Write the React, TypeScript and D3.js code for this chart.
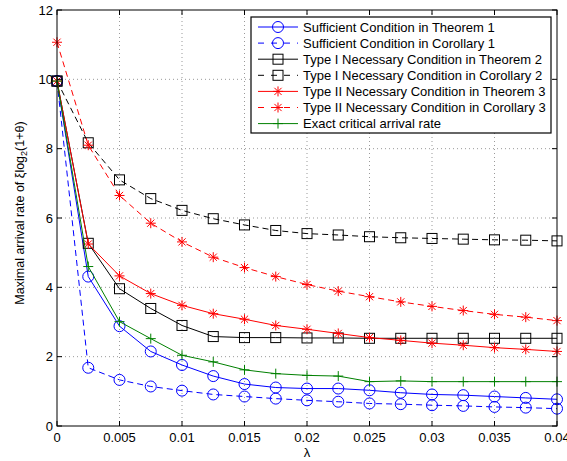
import React, { useEffect, useRef } from 'react';
import * as d3 from 'd3';

const width = 567;
const height = 461;
const margin = { top: 10, left: 57, bottom: 35, right: 10 };

// lambda values
const lambdas = [0, 0.0025, 0.005, 0.0075, 0.01, 0.0125, 0.015, 0.0175, 0.02, 0.0225, 0.025, 0.0275, 0.03, 0.0325, 0.035, 0.0375, 0.04];

const suffThm1 = [9.95, 4.31, 2.88, 2.15, 1.76, 1.44, 1.21, 1.11, 1.08, 1.08, 1.03, 0.96, 0.91, 0.89, 0.85, 0.81, 0.77];
const suffCor1 = [9.95, 1.68, 1.33, 1.14, 1.02, 0.91, 0.85, 0.79, 0.74, 0.70, 0.65, 0.63, 0.60, 0.58, 0.55, 0.53, 0.50];
const type1Thm2 = [9.95, 5.27, 3.96, 3.39, 2.90, 2.58, 2.55, 2.55, 2.54, 2.54, 2.53, 2.53, 2.53, 2.53, 2.53, 2.53, 2.53];
const type1Cor2 = [9.95, 8.17, 7.10, 6.56, 6.22, 5.98, 5.80, 5.64, 5.55, 5.51, 5.46, 5.43, 5.41, 5.39, 5.37, 5.36, 5.34];
const type2Thm3 = [9.95, 5.25, 4.33, 3.82, 3.48, 3.24, 3.08, 2.90, 2.79, 2.67, 2.55, 2.47, 2.39, 2.33, 2.26, 2.21, 2.15];
const type2Cor3 = [11.07, 8.10, 6.65, 5.85, 5.31, 4.87, 4.57, 4.31, 4.08, 3.89, 3.73, 3.58, 3.45, 3.33, 3.22, 3.14, 3.04];
const exactRate = [9.95, 4.60, 3.01, 2.52, 2.04, 1.85, 1.62, 1.51, 1.46, 1.44, 1.28, 1.30, 1.28, 1.28, 1.28, 1.28, 1.28];

const xTicks = [0, 0.005, 0.01, 0.015, 0.02, 0.025, 0.03, 0.035, 0.04];
const yTicks = [0, 2, 4, 6, 8, 10, 12];

const seriesList = [
    { name: 'Sufficient Condition in Theorem 1', values: suffThm1, color: '#0000ff', dashed: false, marker: 'circle' },
    { name: 'Sufficient Condition in Corollary 1', values: suffCor1, color: '#0000ff', dashed: true, marker: 'circle' },
    { name: 'Type I Necessary Condition in Theorem 2', values: type1Thm2, color: '#000000', dashed: false, marker: 'square' },
    { name: 'Type I Necessary Condition in Corollary 2', values: type1Cor2, color: '#000000', dashed: true, marker: 'square' },
    { name: 'Type II Necessary Condition in Theorem 3', values: type2Thm3, color: '#ff0000', dashed: false, marker: 'star' },
    { name: 'Type II Necessary Condition in Corollary 3', values: type2Cor3, color: '#ff0000', dashed: true, marker: 'star' },
    { name: 'Exact critical arrival rate', values: exactRate, color: '#008000', dashed: false, marker: 'plus' },
];

const font = 'Liberation Sans, Arial, Helvetica, sans-serif';

// draws a marker at (cx, cy) into group g
const drawMarker = (g, type, cx, cy, color) => {
    const s = 5;
    if (type === 'circle') {
        g.append('circle').attr('cx', cx).attr('cy', cy).attr('r', 5.5)
            .attr('fill', 'none').attr('stroke', color).attr('stroke-width', 1);
    } else if (type === 'square') {
        g.append('rect').attr('x', cx - s).attr('y', cy - s).attr('width', 2 * s).attr('height', 2 * s)
            .attr('fill', 'none').attr('stroke', color).attr('stroke-width', 1);
    } else if (type === 'star') {
        const d = s * 0.72;
        g.append('path')
            .attr('d', `M${cx - s},${cy}H${cx + s}M${cx},${cy - s}V${cy + s}M${cx - d},${cy - d}L${cx + d},${cy + d}M${cx - d},${cy + d}L${cx + d},${cy - d}`)
            .attr('stroke', color).attr('stroke-width', 1).attr('fill', 'none');
    } else if (type === 'plus') {
        g.append('path')
            .attr('d', `M${cx - s},${cy}H${cx + s}M${cx},${cy - s}V${cy + s}`)
            .attr('stroke', color).attr('stroke-width', 1).attr('fill', 'none');
    }
};

const App = () => {
    const ref = useRef(null);

    useEffect(() => {
        const svg = d3.select(ref.current);
        svg.selectAll('*').remove();

        const x = d3.scaleLinear().domain([0, 0.04]).range([margin.left, width - margin.right]);
        const y = d3.scaleLinear().domain([0, 12]).range([height - margin.bottom, margin.top]);

        const x0 = x.range()[0], x1 = x.range()[1];
        const y0 = y.range()[0], y1 = y.range()[1];

        svg.append('rect').attr('x', 0).attr('y', 0).attr('width', width).attr('height', height).attr('fill', '#fff');

        // grid
        const grid = svg.append('g').attr('stroke', '#555').attr('stroke-width', 0.6).attr('stroke-dasharray', '1,3');
        xTicks.slice(1, -1).forEach(t => {
            grid.append('line').attr('x1', x(t)).attr('x2', x(t)).attr('y1', y0).attr('y2', y1);
        });
        yTicks.slice(1, -1).forEach(t => {
            grid.append('line').attr('x1', x0).attr('x2', x1).attr('y1', y(t)).attr('y2', y(t));
        });

        // series
        const line = d3.line().x((d, i) => x(lambdas[i])).y(d => y(d));
        seriesList.forEach(s => {
            const g = svg.append('g');
            g.append('path')
                .attr('d', line(s.values))
                .attr('fill', 'none')
                .attr('stroke', s.color)
                .attr('stroke-width', 1)
                .attr('stroke-dasharray', s.dashed ? '6,4' : null);
            s.values.forEach((v, i) => drawMarker(g, s.marker, x(lambdas[i]), y(v), s.color));
        });

        // axes box + ticks on all sides
        const axes = svg.append('g').attr('stroke', '#000').attr('stroke-width', 1);
        axes.append('rect').attr('x', x0).attr('y', y1).attr('width', x1 - x0).attr('height', y0 - y1).attr('fill', 'none');
        const tl = 5;
        xTicks.forEach(t => {
            axes.append('line').attr('x1', x(t)).attr('x2', x(t)).attr('y1', y0).attr('y2', y0 - tl);
            axes.append('line').attr('x1', x(t)).attr('x2', x(t)).attr('y1', y1).attr('y2', y1 + tl);
        });
        yTicks.forEach(t => {
            axes.append('line').attr('x1', x0).attr('x2', x0 + tl).attr('y1', y(t)).attr('y2', y(t));
            axes.append('line').attr('x1', x1).attr('x2', x1 - tl).attr('y1', y(t)).attr('y2', y(t));
        });

        const labels = svg.append('g').attr('font-family', font).attr('font-size', 13).attr('fill', '#000');
        xTicks.forEach(t => {
            labels.append('text').attr('x', x(t)).attr('y', y0 + 16).attr('text-anchor', 'middle').text(d3.format('')(t));
        });
        yTicks.forEach(t => {
            labels.append('text').attr('x', x0 - 4).attr('y', y(t) + 4.5).attr('text-anchor', 'end').text(t);
        });

        labels.append('text').attr('x', 307).attr('y', 457).attr('text-anchor', 'middle').text('λ');

        const yl = labels.append('text')
            .attr('transform', `translate(24,${(y0 + y1) / 2 - 5}) rotate(-90)`)
            .attr('text-anchor', 'middle')
            .attr('font-size', 12.5);
        yl.append('tspan').text('Maximal arrival rate of ξlog');
        yl.append('tspan').attr('dy', 3).attr('font-size', 9).text('2');
        yl.append('tspan').attr('dy', -3).text('(1+θ)');

        // legend
        const lx = 251, ly = 17, lw = 300, lh = 116;
        const leg = svg.append('g').attr('font-family', font).attr('font-size', 13);
        leg.append('rect').attr('x', lx).attr('y', ly).attr('width', lw).attr('height', lh)
            .attr('fill', '#fff').attr('stroke', '#000').attr('stroke-width', 1.2);
        seriesList.forEach((s, i) => {
            const ry = ly + 10 + i * 16.1;
            const g = leg.append('g');
            g.append('line').attr('x1', 258).attr('x2', 298).attr('y1', ry).attr('y2', ry)
                .attr('stroke', s.color).attr('stroke-width', 1)
                .attr('stroke-dasharray', s.dashed ? '6,7' : null);
            drawMarker(g, s.marker, 278, ry, s.color);
            g.append('text').attr('x', 303).attr('y', ry + 4.5).text(s.name);
        });
    }, []);

    return (
        <svg ref={ref} width={width} height={height}
            style={{ position: 'absolute', left: 0, top: 0, display: 'block' }}></svg>
    );
};

export default App;
